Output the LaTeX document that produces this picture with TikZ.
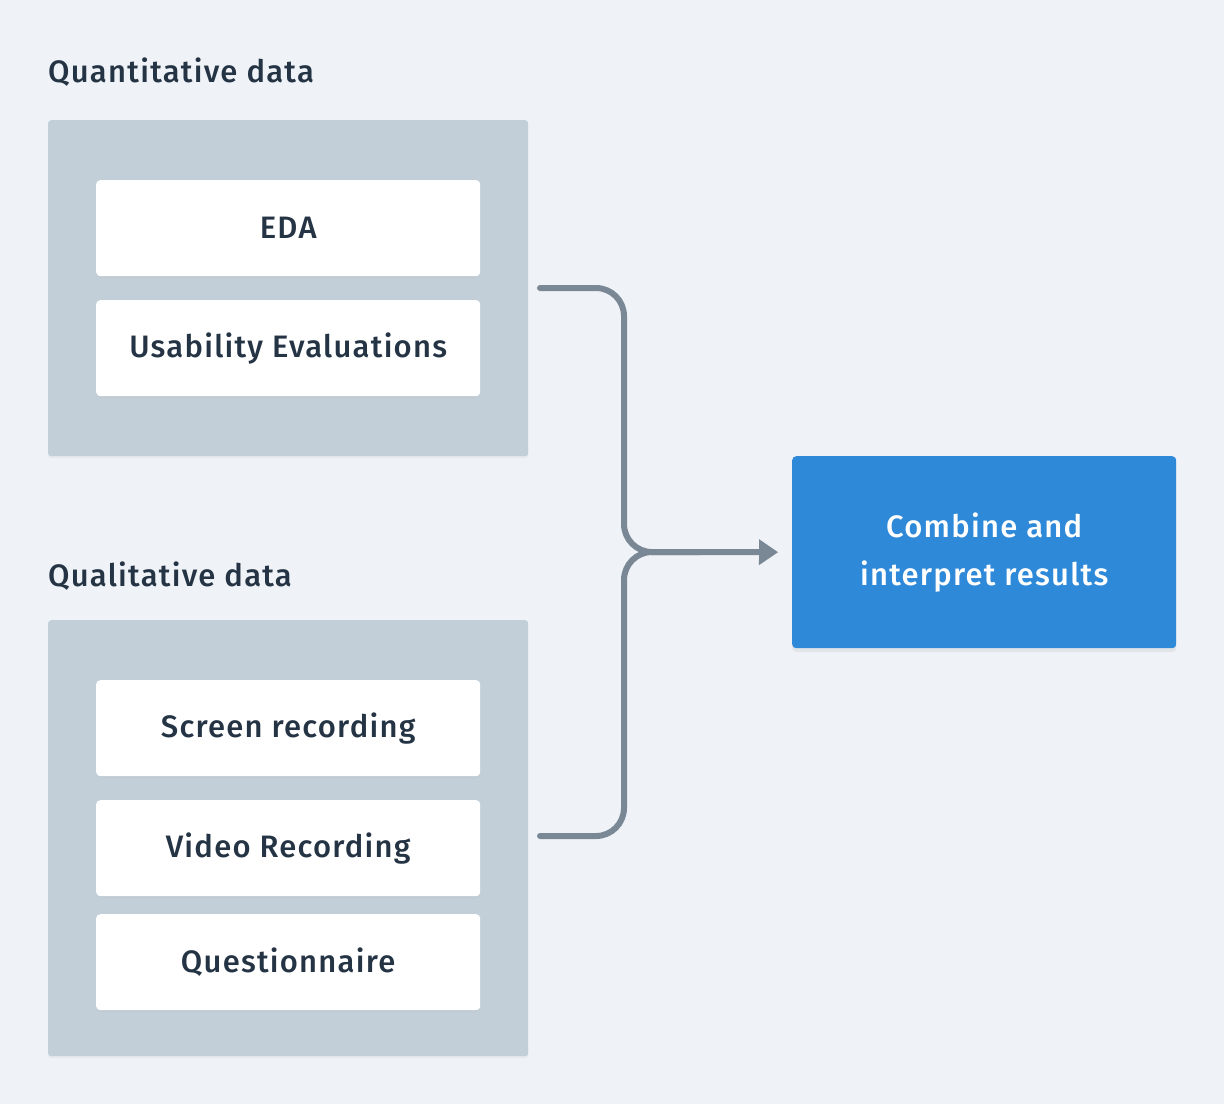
\documentclass[tikz,border=0pt]{standalone}
\usepackage{fontspec}
\setmainfont{Fira Sans}[UprightFont=* Medium, LetterSpace=4]
\usetikzlibrary{shadows,arrows.meta}
\definecolor{bg}{HTML}{EFF3F7}
\definecolor{grp}{HTML}{C3CFD8}
\definecolor{ink}{HTML}{253444}
\definecolor{blu}{HTML}{2E89D9}
\definecolor{lin}{HTML}{7A8896}
\tikzset{
  grpbox/.style={fill=grp, rounded corners=3pt, inner sep=0pt, anchor=north west,
    drop shadow={opacity=0.08, shadow xshift=0pt, shadow yshift=-2pt}},
  itembox/.style={fill=white, rounded corners=4pt, minimum width=384pt, minimum height=96pt,
    inner sep=0pt, anchor=north west, text=ink, font=\fontsize{31}{36}\selectfont,
    drop shadow={opacity=0.06, shadow xshift=0pt, shadow yshift=-2pt}},
  grplabel/.style={anchor=west, text=ink, font=\fontsize{31}{36}\selectfont, inner sep=0pt},
  resultbox/.style={fill=blu, rounded corners=4pt, minimum width=384pt, minimum height=192pt,
    inner sep=0pt, anchor=north west, text=white, align=center,
    font=\fontsize{31}{48}\selectfont,
    drop shadow={opacity=0.12, shadow xshift=0pt, shadow yshift=-4pt}},
  conn/.style={draw=lin, line width=6pt, line cap=round, rounded corners=28pt},
}
\begin{document}
\begin{tikzpicture}[x=1pt,y=-1pt]
\fill[bg] (0,0) rectangle (1224,1104);
\useasboundingbox (0,0) rectangle (1224,1104);

\node[grplabel] (qlabel) at (48,72) {Quantitative data};
\node[grpbox, minimum width=480pt, minimum height=336pt] (qgrp) at (48,120) {};
\node[itembox] (eda) at (96,180) {EDA};
\node[itembox] (usab) at (96,300) {Usability Evaluations};

\node[grplabel] (llabel) at (48,576) {Qualitative data};
\node[grpbox, minimum width=480pt, minimum height=436pt] (lgrp) at (48,620) {};
\node[itembox] (screen) at (96,680) {Screen recording};
\node[itembox] (video) at (96,800) {Video Recording};
\node[itembox] (quest) at (96,914) {Questionnaire};

\node[resultbox] (res) at (792,456) {Combine and\\interpret results};

\coordinate (qout) at (540,288);
\coordinate (lout) at (540,836);
\coordinate (merge) at (624,552);
\coordinate (mergeend) at (700,552);

\draw[conn, -{Triangle[length=19pt,width=26pt,line width=0pt,round]}, shorten >=14pt]
  (qout) -- (merge |- qout) -- (merge) -- (res.west);
\draw[conn] (lout) -- (merge |- lout) -- (merge) -- (mergeend);
\end{tikzpicture}
\end{document}
